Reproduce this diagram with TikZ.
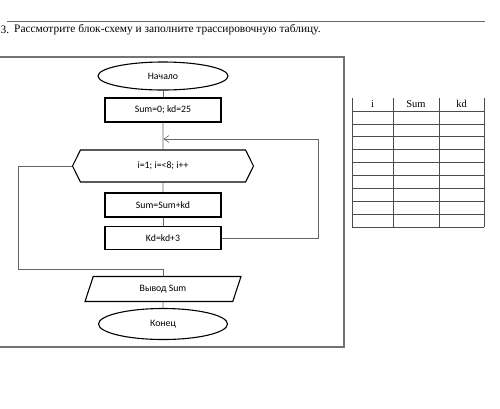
\documentclass[tikz,border=0pt]{standalone}
\usepackage{fontspec}
\setmainfont{Liberation Serif}
\newfontfamily\flowfont{Carlito}
\usepackage{tikz}
\usetikzlibrary{shapes.geometric, shapes.symbols, arrows.meta, positioning, calc}

\tikzset{
    block/.style={draw, line width=1.1pt, font=\flowfont\fontsize{9.8}{11}\selectfont, inner sep=1pt},
    terminal/.style={block, ellipse, minimum width=130, minimum height=28},
    process/.style={block, rectangle, minimum width=116, minimum height=24},
    loophex/.style={block, signal, signal to=west and east, signal pointer angle=127, minimum width=181, minimum height=32},
    io/.style={block, trapezium, trapezium left angle=74, trapezium right angle=106, trapezium stretches=true, minimum width=156, minimum height=25},
    conn/.style={draw=black!60, line width=0.6pt},
    grid/.style={draw=black!70, line width=0.8pt},
    frame/.style={draw=black!55, line width=1.6pt}
}

\begin{document}
\begin{tikzpicture}[x=1pt, y=-1pt]
\useasboundingbox (0,0) rectangle (500,408);

% Task heading
\draw[black!60, line width=0.6pt] (7,21) -- (485,21);
\node[anchor=west, inner sep=0, font=\fontsize{11.4}{13}\selectfont] (num) at (0.5,30) {3.};
\node[anchor=west, inner sep=0, font=\fontsize{11.4}{13}\selectfont] (task) at (14,30) {Рассмотрите блок-схему и заполните трассировочную таблицу.};

% Frame
\draw[frame] (-1,57) rectangle (344,347);

% Flowchart
\node[terminal] (start) at (163,76) {Начало};
\node[process] (init) at (163,110) {Sum=0; kd=25};
\node[loophex] (loop) at (163,166) {i=1; i=<8; i++};
\node[process] (add) at (163,205) {Sum=Sum+kd};
\node[process, minimum height=23] (inc) at (163,238) {Kd=kd+3};
\node[io] (out) at (163,289) {Вывод Sum};
\node[terminal, minimum width=129, minimum height=31] (stop) at (163,324) {Конец};

\coordinate (ret) at (318,139);
\coordinate (join) at (163.5,139);
\coordinate (exitL) at (18,269);

\draw[conn] (start) -- (init);
\draw[conn] (init) -- (loop);
\draw[conn] (loop) -- (add);
\draw[conn] (add) -- (inc);
\draw[conn, -{Straight Barb[length=5pt, width=7pt]}] (inc.east) -| (ret) -- (join);
\draw[conn] (loop.west) -| (exitL) -- (exitL -| out.north) -- (out.north);
\draw[conn] (out) -- (stop);

% Trace table
\foreach \x in {352,393,439,484} {
    \draw[grid] (\x,98) -- (\x,227);
}
\foreach \k in {0,...,9} {
    \draw[grid] (352,{111+\k*12.9}) -- (484,{111+\k*12.9});
}
\node[font=\fontsize{10.5}{12}\selectfont] (hi) at (372.5,104) {i};
\node[font=\fontsize{10.5}{12}\selectfont] (hsum) at (416,104) {Sum};
\node[font=\fontsize{10.5}{12}\selectfont] (hkd) at (461.5,104) {kd};
\end{tikzpicture}
\end{document}
